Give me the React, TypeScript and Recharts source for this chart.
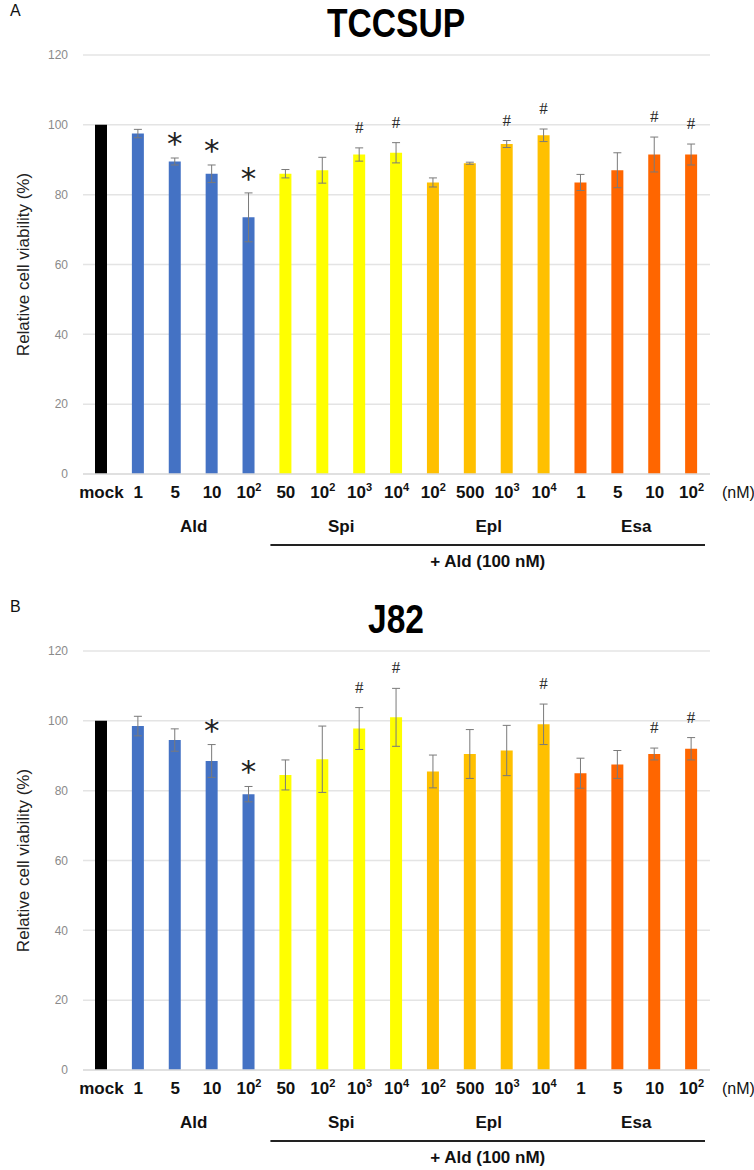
import React from "react";
import { ComposedChart, Bar, XAxis, YAxis, CartesianGrid, ErrorBar, Cell, LabelList } from "recharts";

// x categories (nM) and which treatment each bar belongs to
const doses = ["mock", "1", "5", "10", "10²", "50", "10²", "10³", "10⁴", "10²", "500", "10³", "10⁴", "1", "5", "10", "10²"];
const drugs = ["mock", "Ald", "Ald", "Ald", "Ald", "Spi", "Spi", "Spi", "Spi", "Epl", "Epl", "Epl", "Epl", "Esa", "Esa", "Esa", "Esa"];

// group labels under the axis (first / last bar index)
const groupNames = ["Ald", "Spi", "Epl", "Esa"];
const groupFirst = [1, 5, 9, 13];
const groupLast = [4, 8, 12, 16];
const bracketText = "+ Ald (100 nM)";
const bracketFirst = 5;
const bracketLast = 16;

// A: TCCSUP
const tccsupMean = [100, 97.5, 89.5, 86, 73.5, 86, 87, 91.5, 92, 83.5, 89, 94.5, 97, 83.5, 87, 91.5, 91.5];
const tccsupSd = [0, 1.2, 1, 2.5, 7, 1.2, 3.7, 1.9, 2.9, 1.3, 0.3, 1, 1.8, 2.3, 5, 5, 3];
const tccsupMarks = ["", "", "*", "*", "*", "", "", "#", "#", "", "", "#", "#", "", "", "#", "#"];

// B: J82
const j82Mean = [100, 98.5, 94.5, 88.5, 79, 84.5, 89, 97.8, 101, 85.5, 90.5, 91.5, 99, 85, 87.5, 90.5, 92];
const j82Sd = [0, 2.8, 3.2, 4.7, 2.2, 4.3, 9.5, 6, 8.3, 4.7, 7, 7.2, 5.8, 4.3, 4, 1.7, 3.2];
const j82Marks = ["", "", "", "*", "*", "", "", "#", "#", "", "", "", "#", "", "", "#", "#"];

const yTicks = [0, 20, 40, 60, 80, 100, 120];

const drugColor: Record<string, string> = {
  mock: "#000000",
  Ald: "#4472C4",
  Spi: "#FFFF00",
  Epl: "#FFC000",
  Esa: "#FF6600",
};

const SUP: Record<string, string> = { "²": "2", "³": "3", "⁴": "4" };
const BOLD = "'Liberation Sans', Arial, sans-serif";

function DoseTick(props: any) {
  const { x, y, payload, index } = props;
  const i = payload?.index ?? index;
  const label: string = String(payload.value);
  const band = payload.offset ? payload.offset * 2 : props.width / props.visibleTicksCount;
  const last = label.slice(-1);
  const out: React.ReactNode[] = [];

  out.push(
    <text key="t" x={x} y={y + 24} textAnchor="middle" fontFamily={BOLD} fontWeight="bold" fontSize={17} fill="#111">
      {SUP[last] ? (
        <>
          {label.slice(0, -1)}
          <tspan fontSize={11} dy={-7}>{SUP[last]}</tspan>
        </>
      ) : (
        label
      )}
    </text>
  );

  const g = groupFirst.indexOf(i);
  if (g >= 0) {
    const cx = x + ((groupLast[g] - groupFirst[g]) * band) / 2;
    out.push(
      <text key="g" x={cx} y={y + 58} textAnchor="middle" fontFamily={BOLD} fontWeight="bold" fontSize={17} fill="#111">
        {groupNames[g]}
      </text>
    );
  }
  if (i === bracketFirst) {
    const x1 = x - band / 2 + 3;
    const x2 = x + (bracketLast - bracketFirst) * band + band / 2 - 5;
    out.push(<line key="l" x1={x1} x2={x2} y1={y + 71} y2={y + 71} stroke="#222" strokeWidth={2.2} />);
    out.push(
      <text key="b" x={(x1 + x2) / 2} y={y + 93} textAnchor="middle" fontFamily={BOLD} fontWeight="bold" fontSize={17} fill="#111">
        {bracketText}
      </text>
    );
  }
  if (i === doses.length - 1) {
    out.push(
      <text key="u" x={x + band / 2 + 12} y={y + 24} textAnchor="start" fontFamily={BOLD} fontSize={16} fill="#111">
        (nM)
      </text>
    );
  }
  return <g>{out}</g>;
}

function markRenderer(means: number[], sds: number[]) {
  return (p: any) => {
    const vb = p.viewBox || p;
    const x = p.x ?? vb.x;
    const y = p.y ?? vb.y;
    const width = p.width ?? vb.width;
    const height = p.height ?? vb.height;
    const { value, index } = p;
    if (!value) return null;
    const pxPerUnit = height / means[index];
    const errTop = y - sds[index] * pxPerUnit;
    const cx = x + width / 2;
    const cy = errTop - 21;
    if (value === "*") {
      return (
        <text x={cx} y={cy + 17} textAnchor="middle" fontSize={31} fontFamily="'DejaVu Sans'" fill="#222">
          *
        </text>
      );
    }
    return (
      <text x={cx} y={cy + 6} textAnchor="middle" fontSize={17} fontFamily="'Liberation Serif'" fill="#2a2a2a">
        #
      </text>
    );
  };
}

function Panel({ letter, title, top, height, means, sds, marks }: any) {
  const rows = doses.map((dose, i) => ({ dose, drug: drugs[i], mean: means[i], sd: sds[i], mark: marks[i] }));
  return (
    <div style={{ position: "absolute", left: 0, top, width: 754, height }}>
      <div style={{ position: "absolute", left: 10, top: 2, fontFamily: BOLD, fontSize: 16, color: "#111" }}>{letter}</div>
      <div
        style={{
          position: "absolute",
          left: 246,
          width: 300,
          top: 0,
          textAlign: "center",
          fontFamily: BOLD,
          fontWeight: "bold",
          fontSize: 40,
          lineHeight: "46px",
          color: "#000",
          transform: "scaleX(0.84)",
        }}
      >
        {title}
      </div>
      <ComposedChart width={754} height={height} data={rows} margin={{ top: 55, right: 44, left: 0, bottom: 0 }}>
        <CartesianGrid vertical={false} stroke="#e4e4e4" strokeWidth={1.5} />
        <XAxis
          dataKey="dose"
          interval={0}
          tickLine={false}
          tickSize={0}
          tickMargin={0}
          height={height - 55 - 419}
          axisLine={{ stroke: "#dcdcdc", strokeWidth: 1.5 }}
          tick={<DoseTick />}
        />
        <YAxis
          domain={[0, 120]}
          ticks={yTicks}
          width={83}
          axisLine={false}
          tickLine={false}
          tickMargin={9}
          tick={{ fontSize: 12, fill: "#8a8a8a", fontFamily: BOLD }}
          label={{
            content: (lp: any) => {
              const vb = lp.viewBox;
              const cy = vb.y + vb.height / 2;
              return (
                <text
                  transform={`translate(23, ${cy}) rotate(-90)`}
                  textAnchor="middle"
                  dominantBaseline="central"
                  fontFamily={BOLD}
                  fontSize={17}
                  fill="#222"
                >
                  Relative cell viability (%)
                </text>
              );
            },
          }}
        />
        <Bar dataKey="mean" barSize={12} isAnimationActive={false}>
          {rows.map((r, i) => (
            <Cell key={i} fill={drugColor[r.drug]} />
          ))}
          <ErrorBar dataKey="sd" width={4} stroke="#7a7a7a" strokeWidth={1} direction="y" />
          <LabelList dataKey="mark" content={markRenderer(means, sds)} />
        </Bar>
      </ComposedChart>
    </div>
  );
}

export default function App() {
  return (
    <div style={{ position: "absolute", left: 0, top: 0, width: 754, height: 1170, background: "#fff", overflow: "hidden" }}>
      <Panel letter="A" title="TCCSUP" top={0} height={590} means={tccsupMean} sds={tccsupSd} marks={tccsupMarks} />
      <Panel letter="B" title="J82" top={596} height={573} means={j82Mean} sds={j82Sd} marks={j82Marks} />
    </div>
  );
}
